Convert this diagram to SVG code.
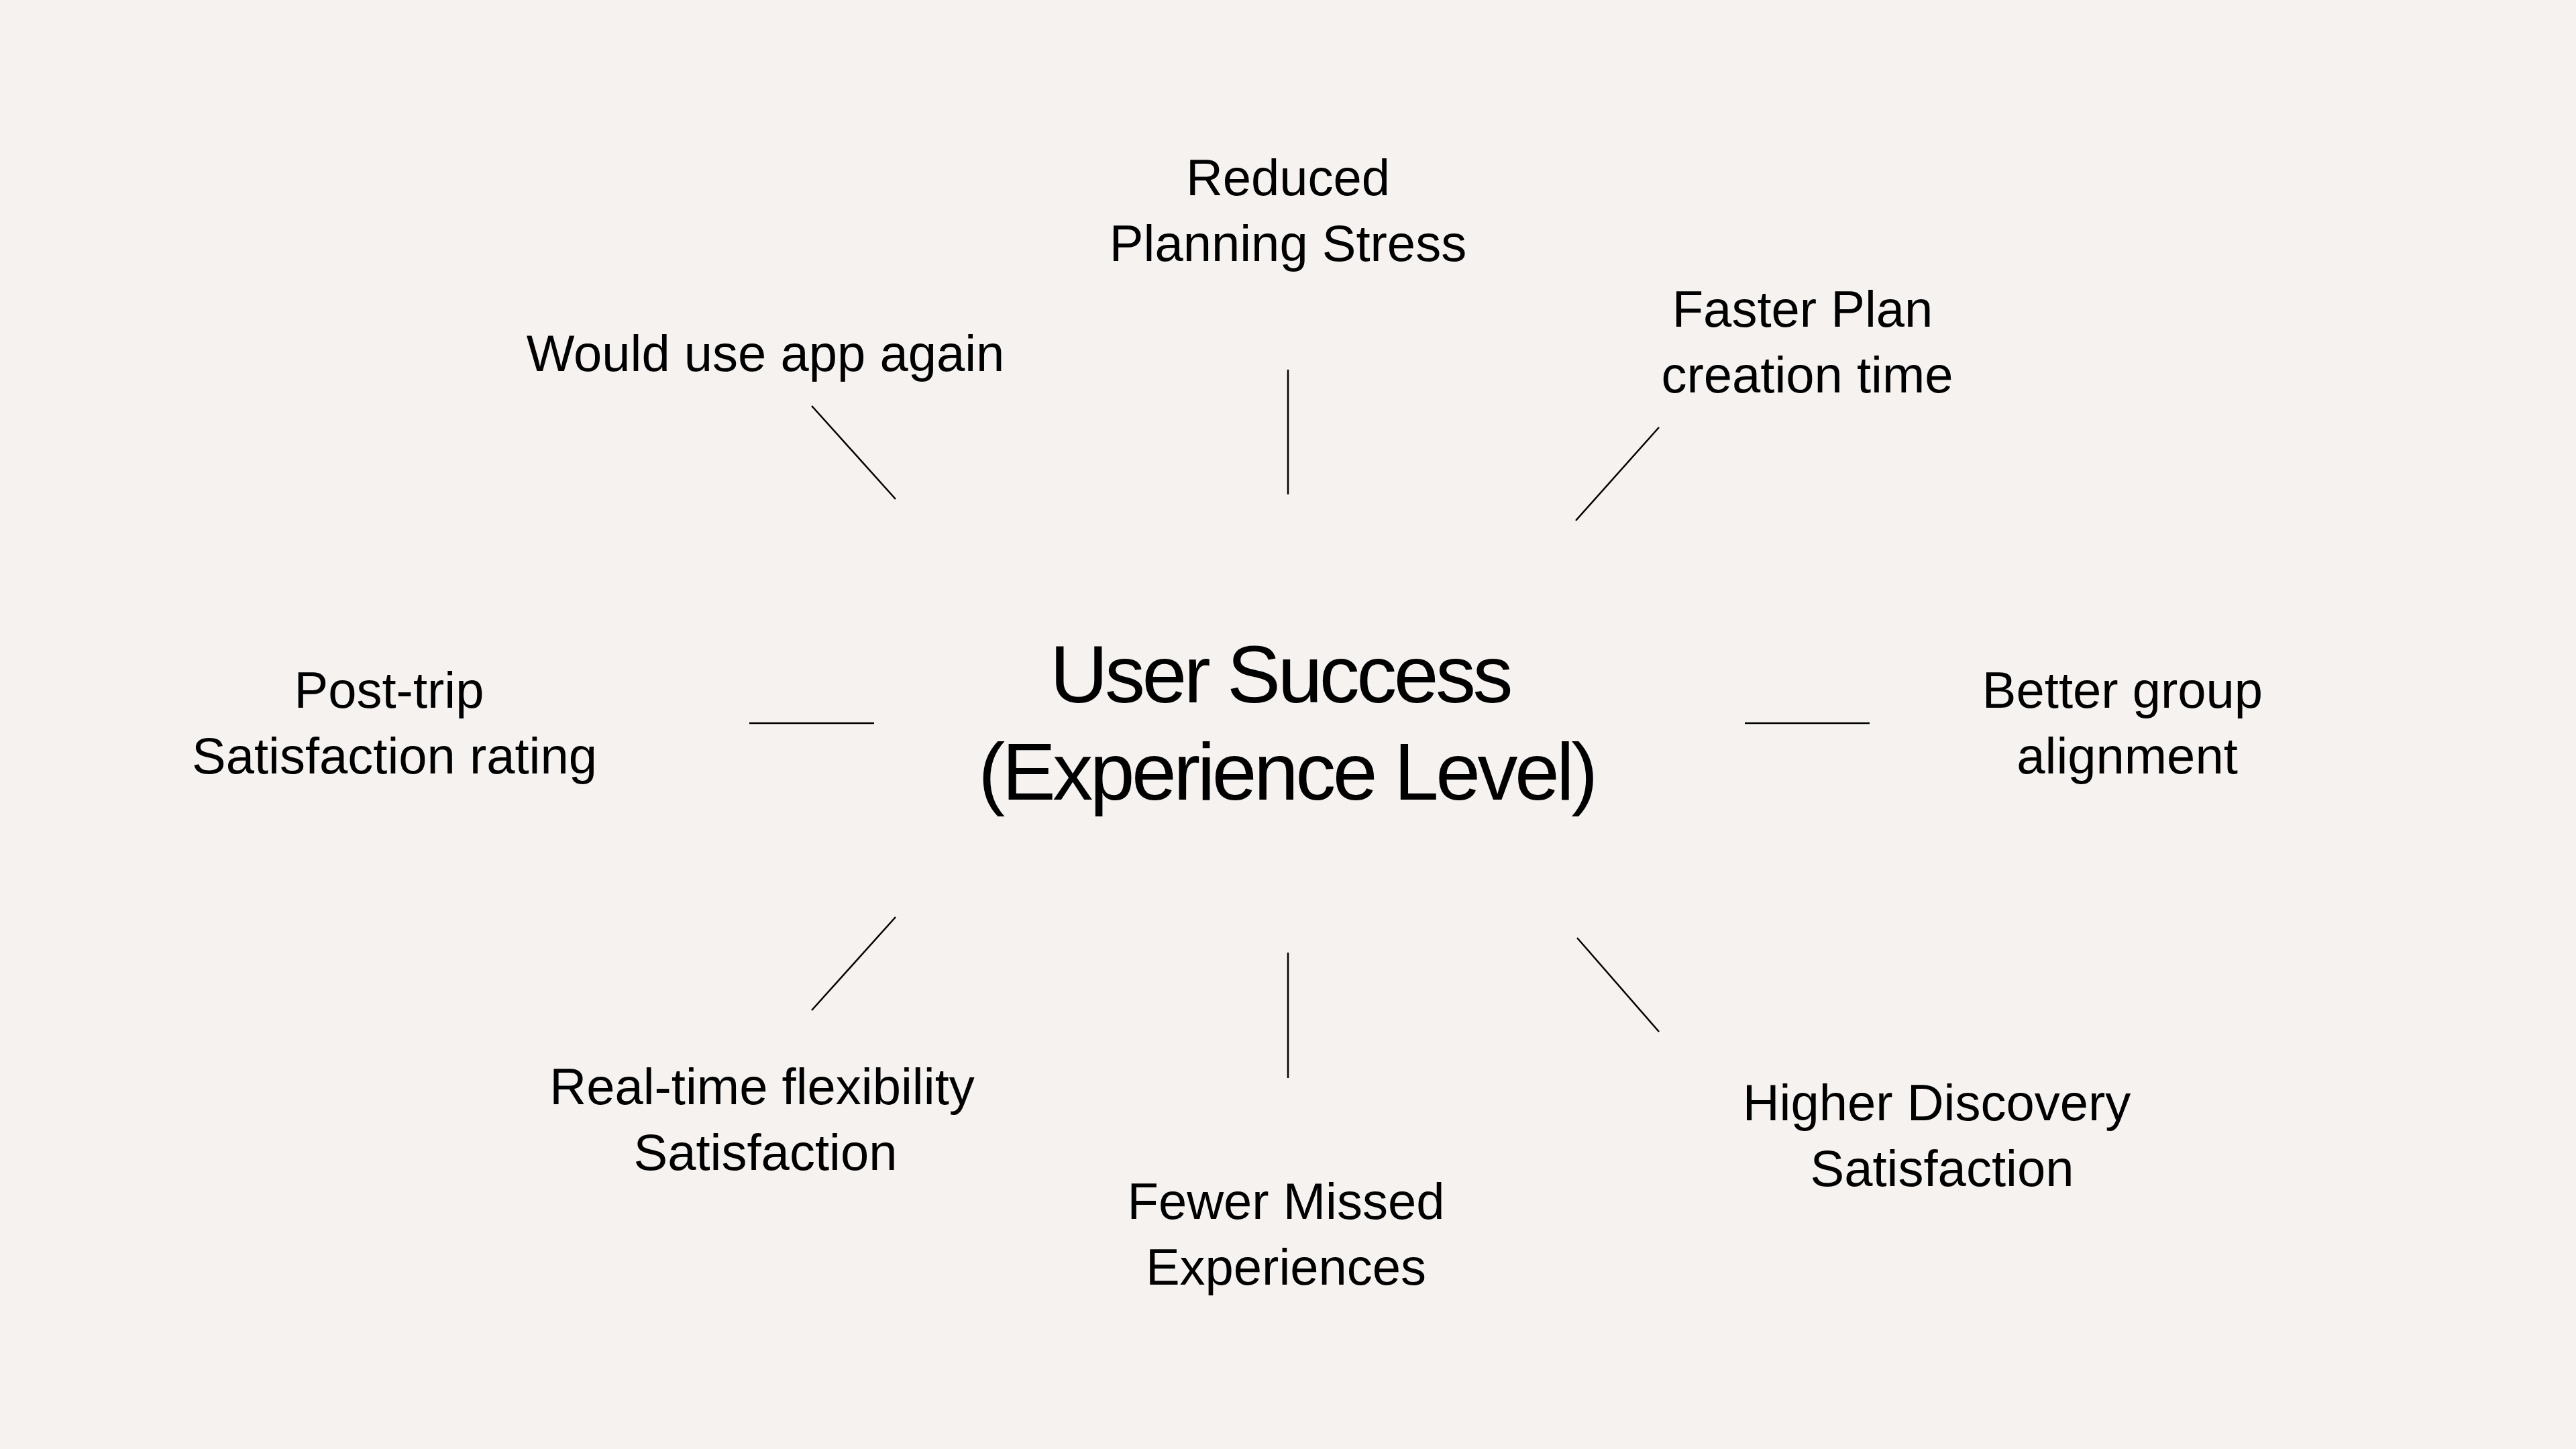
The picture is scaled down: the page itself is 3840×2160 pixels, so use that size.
<svg xmlns="http://www.w3.org/2000/svg" width="3840" height="2160" viewBox="0 0 3840 2160">
<style>
.lbl{font-family:"Liberation Sans",Arial,sans-serif;font-size:76px;fill:#000;text-anchor:middle}
.ttl{font-family:"Liberation Sans",Arial,sans-serif;font-size:120px;fill:#000;text-anchor:middle;letter-spacing:-4.5px}
.con line{stroke:#000;stroke-width:2.5;fill:none}
</style>
<rect width="3840" height="2160" fill="#F5F2EF"/>
<g id="center">
<text class="ttl" x="1908" y="1047">User Success</text>
<text class="ttl" x="1918" y="1192">(Experience Level)</text>
</g>
<g id="n-reduced"><text class="lbl" x="1920" y="291">Reduced</text><text class="lbl" x="1920" y="389">Planning Stress</text></g>
<g id="n-faster"><text class="lbl" x="2687" y="487">Faster Plan</text><text class="lbl" x="2694" y="585">creation time</text></g>
<g id="n-would"><text class="lbl" x="1141" y="553">Would use app again</text></g>
<g id="n-posttrip"><text class="lbl" x="580" y="1055">Post-trip</text><text class="lbl" x="588" y="1153">Satisfaction rating</text></g>
<g id="n-better"><text class="lbl" x="3164" y="1055">Better group</text><text class="lbl" x="3171" y="1153">alignment</text></g>
<g id="n-realtime"><text class="lbl" x="1136" y="1646">Real-time flexibility</text><text class="lbl" x="1141" y="1744">Satisfaction</text></g>
<g id="n-fewer"><text class="lbl" x="1917" y="1817">Fewer Missed</text><text class="lbl" x="1917" y="1915">Experiences</text></g>
<g id="n-higher"><text class="lbl" x="2887" y="1670">Higher Discovery</text><text class="lbl" x="2895" y="1768">Satisfaction</text></g>
<g id="connectors" class="con">
<line x1="1210" y1="605" x2="1335" y2="744"/>
<line x1="1920" y1="551" x2="1920" y2="737"/>
<line x1="2473" y1="637" x2="2349" y2="776"/>
<line x1="1117" y1="1078" x2="1303" y2="1078"/>
<line x1="2601" y1="1078" x2="2787" y2="1078"/>
<line x1="1335" y1="1367" x2="1210" y2="1506"/>
<line x1="1920" y1="1420" x2="1920" y2="1607"/>
<line x1="2351" y1="1398" x2="2473" y2="1538"/>
</g>
</svg>
